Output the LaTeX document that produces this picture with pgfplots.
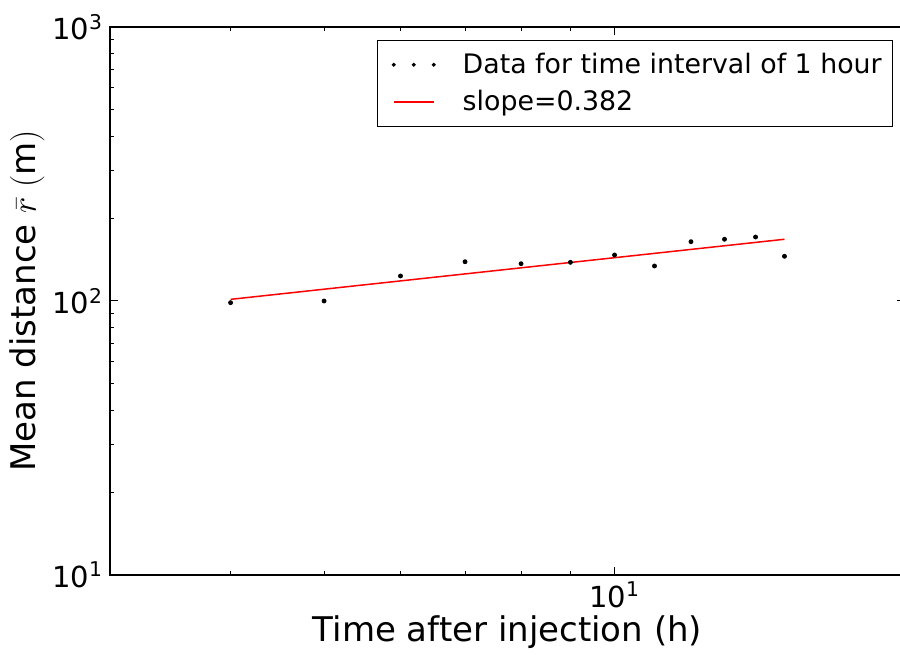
\documentclass[border=0pt]{standalone}
\usepackage{pgfplots}
\pgfplotsset{compat=1.18}
\usepackage{fontspec}
\setmainfont{DejaVu Sans}
\begin{document}
\begin{tikzpicture}
\begin{loglogaxis}[
  scale only axis, width=397.5pt, height=274pt,
  xmin=3, xmax=20, ymin=10, ymax=1000,
  axis line style={line width=1pt},
  xtick={10}, xticklabels={10\textsuperscript{1}},
  ytick={10,100,1000},
  yticklabels={10\textsuperscript{1},10\textsuperscript{2},10\textsuperscript{3}},
  minor xtick={4,5,6,7,8,9,20},
  minor ytick={20,30,40,50,60,70,80,90,200,300,400,500,600,700,800,900},
  tick align=inside, major tick length=4pt, minor tick length=2pt,
  tick style={black, line width=0.5pt},
  ticklabel style={font=\fontsize{14.5}{16}\selectfont},
  xlabel={Time after injection (h)},
  ylabel={Mean distance $\bar{r}\;(\mathrm{m})$},
  label style={font=\fontsize{17}{19}\selectfont},
  xlabel style={yshift=3pt},
  ylabel style={yshift=-3pt},
  legend cell align=left,
  legend style={at={(rel axis cs:0.985,0.976)}, anchor=north east,
    font=\fontsize{13.4}{15}\selectfont,
    row sep=3pt, inner xsep=4pt, inner ysep=4.25pt,
    nodes={inner xsep=1.5pt},
    /tikz/every odd column/.append style={column sep=12pt}},
]
\addplot[only marks, mark=*, mark size=1pt, black,
  legend image code/.code={
    \path (0pt,0pt);
    \fill[black] (4pt,0pt) circle (0.8pt);
    \fill[black] (14pt,0pt) circle (0.8pt);
    \fill[black] (24pt,0pt) circle (0.8pt);}]
  coordinates {
  (4,98.6) (5,100) (6,123.4) (7,139.1) (8,136.8) (9,138.4)
  (10,147.2) (11,134.2) (12,164.6) (13,168.0) (14,171.2) (15,145.6)};
\addlegendentry{Data for time interval of 1 hour}
\addplot[red, line width=0.75pt,
  legend image code/.code={\path (0pt,0pt); \draw[red, line width=0.8pt] (4pt,0pt) -- (24pt,0pt);}]
  coordinates {(4,101.4) (15,168)};
\addlegendentry{slope=0.382}
\end{loglogaxis}
\pgfresetboundingbox
\path[use as bounding box] ([xshift=-55pt,yshift=-39.5pt]current axis.south west)
  rectangle ([xshift=-2.5pt,yshift=13.5pt]current axis.north east);
\end{tikzpicture}
\end{document}
